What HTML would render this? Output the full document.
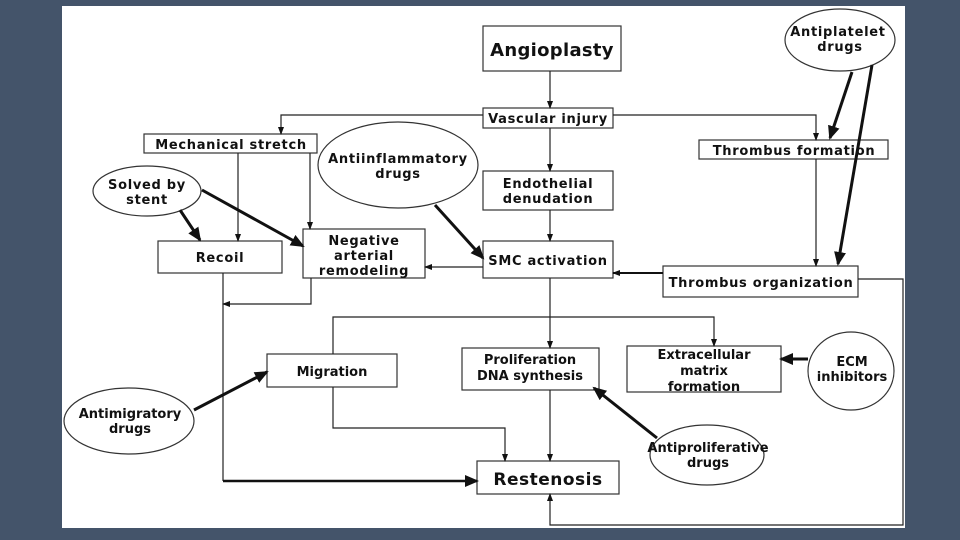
<!DOCTYPE html>
<html><head><style>
html,body{margin:0;padding:0;background:#44546a;width:960px;height:540px;overflow:hidden}
svg{display:block}
text{font-family:"DejaVu Sans","Liberation Sans",sans-serif;font-weight:bold;fill:#111;text-anchor:middle;font-size:13px;letter-spacing:0.7px}
text.n{letter-spacing:0}
</style></head><body>
<svg width="960" height="540" viewBox="0 0 960 540">
<defs>
<marker id="a" markerWidth="8" markerHeight="8" refX="7" refY="4" orient="auto" markerUnits="userSpaceOnUse"><path d="M0,1 L8,4 L0,7z" fill="#111"/></marker>
<marker id="b" markerWidth="14" markerHeight="12" refX="12" refY="6" orient="auto" markerUnits="userSpaceOnUse"><path d="M0,0 L14,6 L0,12z" fill="#111"/></marker>
</defs>
<rect x="62" y="6" width="843" height="522" fill="#fff"/>
<g fill="#fff" stroke="#333" stroke-width="1.2">
<rect x="483" y="26" width="138" height="45"/>
<rect x="483" y="108" width="130" height="20"/>
<rect x="144" y="134" width="173" height="19"/>
<rect x="483" y="171" width="130" height="39"/>
<rect x="158" y="241" width="124" height="32"/>
<rect x="303" y="229" width="122" height="49"/>
<rect x="483" y="241" width="130" height="37"/>
<rect x="699" y="140" width="189" height="19"/>
<rect x="663" y="266" width="195" height="31"/>
<rect x="267" y="354" width="130" height="33"/>
<rect x="462" y="348" width="137" height="42"/>
<rect x="627" y="346" width="154" height="46"/>
<rect x="477" y="461" width="142" height="33"/>
<ellipse cx="398" cy="165" rx="80" ry="43"/>
<ellipse cx="147" cy="191" rx="54" ry="25"/>
<ellipse cx="840" cy="40" rx="55" ry="31"/>
<ellipse cx="851" cy="371" rx="43" ry="39"/>
<ellipse cx="129" cy="421" rx="65" ry="33"/>
<ellipse cx="707" cy="455" rx="57" ry="30"/>
</g>
<g fill="none" stroke="#222" stroke-width="1.2">
<path d="M550 71V108" marker-end="url(#a)"/>
<path d="M483 115H281V134" marker-end="url(#a)"/>
<path d="M613 115H816V140" marker-end="url(#a)"/>
<path d="M550 128V171" marker-end="url(#a)"/>
<path d="M550 210V241" marker-end="url(#a)"/>
<path d="M238 153V241" marker-end="url(#a)"/>
<path d="M310 153V229" marker-end="url(#a)"/>
<path d="M483 267H425" marker-end="url(#a)"/>
<path d="M816 159V266" marker-end="url(#a)"/>
<path d="M311 278V304H223" marker-end="url(#a)"/>
<path d="M223 273V481"/>
<path d="M550 278V348" marker-end="url(#a)"/>
<path d="M333 354V317H714V346" marker-end="url(#a)"/>
<path d="M333 387V428H505V461" marker-end="url(#a)"/>
<path d="M550 390V461" marker-end="url(#a)"/>
<path d="M858 279H903V525H550V494" marker-end="url(#a)"/>
</g>
<g fill="none" stroke="#111" stroke-width="3">
<path d="M663 273H613" stroke-width="2" marker-end="url(#a)"/>
<path d="M180 210L200 240" marker-end="url(#b)"/>
<path d="M202 190L303 246" marker-end="url(#b)"/>
<path d="M435 205L483 258" marker-end="url(#b)"/>
<path d="M852 72L830 138" marker-end="url(#b)"/>
<path d="M872 65L838 264" marker-end="url(#b)"/>
<path d="M223 481H477" stroke-width="2.5" marker-end="url(#b)"/>
<path d="M194 410L267 372" marker-end="url(#b)"/>
<path d="M657 438L594 388" marker-end="url(#b)"/>
<path d="M808 359H781" marker-end="url(#b)"/>
</g>
<text x="552" y="56" style="font-size:18px;letter-spacing:0.3px">Angioplasty</text>
<text x="548" y="123">Vascular injury</text>
<text x="231" y="149">Mechanical stretch</text>
<text x="398" y="163">Antiinflammatory</text>
<text x="398" y="178">drugs</text>
<text x="147" y="189">Solved by</text>
<text x="147" y="204">stent</text>
<text x="548" y="188">Endothelial</text>
<text x="548" y="203">denudation</text>
<text x="220" y="262">Recoil</text>
<text x="364" y="245">Negative</text>
<text x="364" y="260">arterial</text>
<text x="364" y="275">remodeling</text>
<text x="548" y="265">SMC activation</text>
<text x="794" y="155">Thrombus formation</text>
<text x="761" y="287">Thrombus organization</text>
<text x="838" y="36">Antiplatelet</text>
<text x="840" y="51">drugs</text>
<text class="n" x="332" y="376">Migration</text>
<text class="n" x="530" y="364">Proliferation</text>
<text class="n" x="530" y="380">DNA synthesis</text>
<text class="n" x="704" y="359">Extracellular</text>
<text class="n" x="704" y="375">matrix</text>
<text class="n" x="704" y="391">formation</text>
<text class="n" x="852" y="366">ECM</text>
<text class="n" x="852" y="381">inhibitors</text>
<text class="n" x="130" y="418">Antimigratory</text>
<text class="n" x="130" y="433">drugs</text>
<text class="n" x="708" y="452">Antiproliferative</text>
<text class="n" x="708" y="467">drugs</text>
<text x="548" y="485" style="font-size:17px;letter-spacing:0.5px">Restenosis</text>
</svg>
</body></html>
